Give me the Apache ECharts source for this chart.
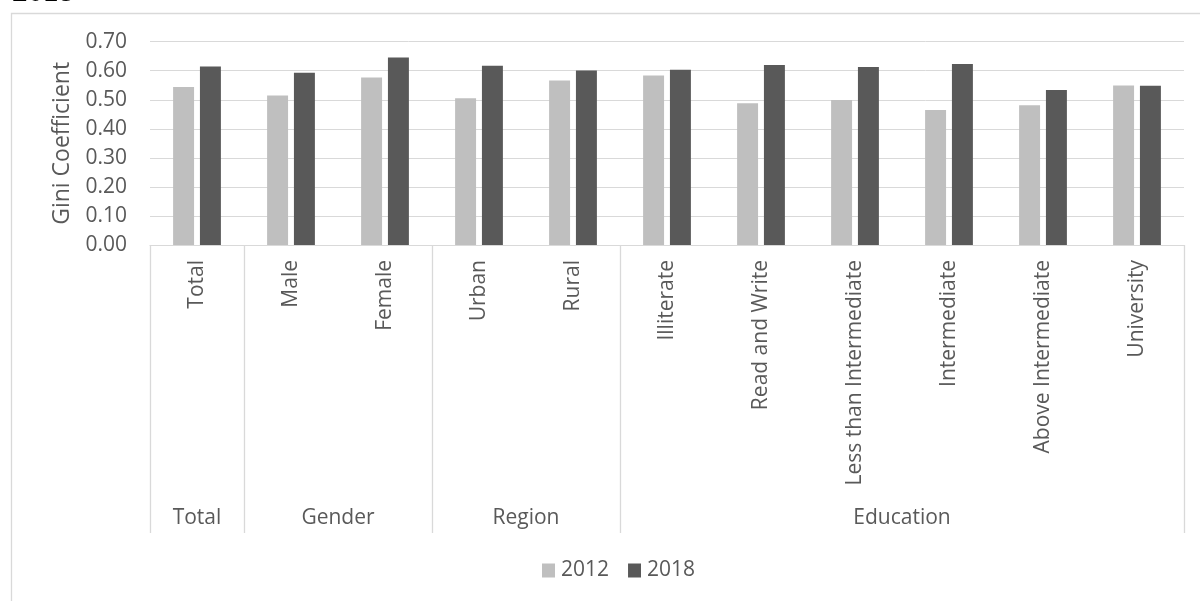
<!DOCTYPE html>
<html>
<head>
<meta charset="utf-8">
<script src="https://cdn.jsdelivr.net/npm/echarts@6/dist/echarts.min.js"></script>
<style>
  html, body { margin: 0; padding: 0; background: #ffffff; }
  #chart { width: 1200px; height: 601px; }
</style>
</head>
<body>
<div id="chart"></div>
<script>
// Gini coefficient by population group, 2012 vs 2018
const categories = ['Total', 'Male', 'Female', 'Urban', 'Rural', 'Illiterate', 'Read and Write',
  'Less than Intermediate', 'Intermediate', 'Above Intermediate', 'University'];
const values2012 = [0.544, 0.515, 0.577, 0.505, 0.566, 0.584, 0.488, 0.499, 0.465, 0.481, 0.549];
const values2018 = [0.615, 0.593, 0.646, 0.617, 0.601, 0.603, 0.620, 0.613, 0.623, 0.534, 0.548];
const groupNames = ['Total', 'Gender', 'Region', 'Education'];
const groupSpans = [1, 2, 2, 6];
const seriesNames = ['2012', '2018'];
const yMin = 0, yMax = 0.7, yStep = 0.1;

const TEXT = '#595959';
const LINE = '#d9d9d9';
const FONT = '"Open Sans", "Noto Sans", sans-serif';

const chart = echarts.init(document.getElementById('chart'), null, { renderer: 'canvas' });

const option = {
  backgroundColor: '#ffffff',
  animation: false,
  grid: { left: 150, right: 16, top: 41.7, bottom: 356, containLabel: false },
  legend: {
    data: seriesNames,
    left: 537,
    top: 555,
    icon: 'rect',
    itemWidth: 13,
    itemHeight: 14,
    itemGap: 19,
    textStyle: { color: TEXT, fontSize: 21, fontFamily: FONT, padding: [0, 0, 0, 1] }
  },
  xAxis: {
    type: 'category',
    data: categories,
    boundaryGap: true,
    axisLine: { show: true, lineStyle: { color: LINE, width: 1 } },
    axisTick: { show: false },
    splitLine: { show: false },
    axisLabel: {
      rotate: 90,
      interval: 0,
      margin: 15,
      color: TEXT,
      fontSize: 21,
      fontFamily: FONT
    }
  },
  yAxis: {
    type: 'value',
    min: yMin,
    max: yMax,
    interval: yStep,
    name: 'Gini Coefficient',
    nameLocation: 'middle',
    nameGap: 76,
    nameTextStyle: { color: TEXT, fontSize: 23, fontFamily: FONT },
    axisLine: { show: false },
    axisTick: { show: false },
    splitLine: { show: true, lineStyle: { color: LINE, width: 1 } },
    axisLabel: {
      margin: 23,
      color: TEXT,
      fontSize: 21,
      fontFamily: FONT,
      formatter: v => v.toFixed(2)
    }
  },
  series: [
    {
      name: seriesNames[0],
      type: 'bar',
      data: values2012,
      barWidth: '22.3%',
      barGap: '28%',
      itemStyle: { color: '#bfbfbf' }
    },
    {
      name: seriesNames[1],
      type: 'bar',
      data: values2018,
      barWidth: '22.3%',
      barGap: '28%',
      itemStyle: { color: '#595959' }
    }
  ]
};

chart.setOption(option);

// Multi-level category axis: group separators and group names under the labels
function drawGroups() {
  const c0 = chart.convertToPixel({ xAxisIndex: 0 }, 0);
  const c1 = chart.convertToPixel({ xAxisIndex: 0 }, 1);
  const band = c1 - c0;
  const left = c0 - band / 2;
  const axisY = chart.convertToPixel({ yAxisIndex: 0 }, yMin);
  const elements = [];

  // chart area frame
  elements.push({
    type: 'rect',
    shape: { x: 11.5, y: 13.5, width: 1400, height: 800 },
    style: { fill: 'none', stroke: LINE, lineWidth: 1.3 },
    silent: true
  });

  // partially visible heading above the frame
  elements.push({
    type: 'text',
    left: 12,
    top: -23,
    style: {
      text: '2018',
      font: 'bold 31px "Liberation Serif", "DejaVu Serif", serif',
      fill: '#000000'
    },
    silent: true
  });

  let start = 0;
  const bounds = [0];
  groupSpans.forEach(s => { start += s; bounds.push(start); });
  bounds.forEach(k => {
    const x = Math.round(left + k * band) + 0.5;
    elements.push({
      type: 'line',
      shape: { x1: x, y1: axisY, x2: x, y2: axisY + 288 },
      style: { stroke: LINE, lineWidth: 1.3 },
      silent: true
    });
  });
  groupNames.forEach((name, i) => {
    const mid = left + (bounds[i] + bounds[i + 1]) / 2 * band;
    elements.push({
      type: 'text',
      x: mid,
      y: axisY + 273,
      style: {
        text: name,
        fill: TEXT,
        font: '21px ' + FONT,
        align: 'center',
        verticalAlign: 'middle'
      },
      silent: true
    });
  });
  chart.setOption({ graphic: { elements: elements } });
}

drawGroups();
</script>
</body>
</html>
